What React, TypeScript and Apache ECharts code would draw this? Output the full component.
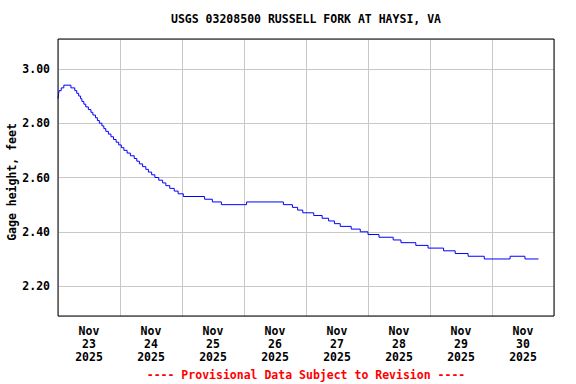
import { useEffect, useRef } from "react";
import * as echarts from "echarts";

const TITLE = "USGS 03208500 RUSSELL FORK AT HAYSI, VA";
const Y_NAME = "Gage height, feet";
const FOOTER = "---- Provisional Data Subject to Revision ----";

// day tick labels (centered at noon of each day)
const xTickLabels = [
  "Nov\n23\n2025",
  "Nov\n24\n2025",
  "Nov\n25\n2025",
  "Nov\n26\n2025",
  "Nov\n27\n2025",
  "Nov\n28\n2025",
  "Nov\n29\n2025",
  "Nov\n30\n2025",
];

// hours since Nov 23 00:00 at which the gage reading changes
const stepHours = [
  0, 0.25, 0.5, 1.25, 2.25, 5.0, 6.5, 7.25, 8.0, 8.75, 9.25, 10.0, 10.75, 11.75,
  12.75, 13.5, 14.5, 15.25, 16.0, 17.0, 17.75, 18.5, 19.5, 20.5, 21.5, 22.5,
  23.5, 24.5, 25.5, 26.75, 28.0, 29.5, 30.5, 31.5, 32.75, 34.0, 35.0, 36.25,
  37.5, 39.0, 40.5, 41.75, 43.25, 45.0, 46.5, 48.5, 56.75, 59.75, 63.25, 73.0,
  87.25, 90.75, 92.75, 94.75, 99.0, 102.25, 104.75, 107.0, 109.25, 113.5, 117.0,
  120.0, 124.25, 129.75, 132.75, 138.5, 143.25, 149.25, 153.75, 158.75, 165.0,
  175.0, 180.75, 186.0,
];

// gage height (feet) from each change time onward
const stepValues = [
  2.89, 2.91, 2.92, 2.93, 2.94, 2.93, 2.92, 2.91, 2.9, 2.89, 2.88, 2.87, 2.86,
  2.85, 2.84, 2.83, 2.82, 2.81, 2.8, 2.79, 2.78, 2.77, 2.76, 2.75, 2.74, 2.73,
  2.72, 2.71, 2.7, 2.69, 2.68, 2.67, 2.66, 2.65, 2.64, 2.63, 2.62, 2.61, 2.6,
  2.59, 2.58, 2.57, 2.56, 2.55, 2.54, 2.53, 2.52, 2.51, 2.5, 2.51, 2.5, 2.49,
  2.48, 2.47, 2.46, 2.45, 2.44, 2.43, 2.42, 2.41, 2.4, 2.39, 2.38, 2.37, 2.36,
  2.35, 2.34, 2.33, 2.32, 2.31, 2.3, 2.31, 2.3, 2.3,
];

const FONT = "DejaVu Sans Mono";

export default function App() {
  const ref = useRef<HTMLDivElement>(null);

  useEffect(() => {
    if (!ref.current) return;
    const chart = echarts.init(ref.current, undefined, { renderer: "svg" });
    const data = stepHours.map((h, i) => [h, stepValues[i]]);
    const totalHours = xTickLabels.length * 24;

    chart.setOption({
      animation: false,
      backgroundColor: "#ffffff",
      grid: {
        left: 58,
        top: 39,
        width: 496,
        height: 277,
        show: true,
        borderColor: "#000000",
        borderWidth: 1,
        backgroundColor: "transparent",
        z: 10,
      },
      xAxis: [
        {
          type: "value",
          min: 0,
          max: totalHours,
          interval: 24,
          axisLine: { show: false },
          axisTick: { show: false },
          axisLabel: { show: false },
          splitLine: { show: true, lineStyle: { color: "#c8c8c8", width: 1 } },
        },
        {
          type: "value",
          position: "bottom",
          min: 0,
          max: totalHours,
          interval: 12,
          axisLine: { show: false },
          axisTick: { show: false },
          splitLine: { show: false },
          axisLabel: {
            show: true,
            margin: 8,
            color: "#000000",
            fontFamily: FONT,
            fontWeight: "bold",
            fontSize: 11.5,
            lineHeight: 13,
            align: "center",
            formatter: (v: number) => {
              if (Math.round(v) % 24 !== 12) return "";
              const idx = Math.floor(v / 24);
              return xTickLabels[idx] ?? "";
            },
          },
        },
      ],
      yAxis: {
        type: "value",
        min: 2.09,
        max: 3.11,
        splitNumber: 5,
        axisLine: { show: false },
        axisTick: { show: false },
        splitLine: { show: true, lineStyle: { color: "#c8c8c8", width: 1 } },
        axisLabel: {
          show: true,
          showMinLabel: false,
          showMaxLabel: false,
          margin: 8,
          color: "#000000",
          fontFamily: FONT,
          fontWeight: "bold",
          fontSize: 11.5,
          formatter: (v: number) => v.toFixed(2),
        },
      },
      graphic: [
        {
          type: "text",
          x: 306,
          y: 19,
          style: {
            text: TITLE,
            align: "center",
            verticalAlign: "middle",
            fill: "#000000",
            font: `bold 11.5px "${FONT}"`,
          },
        },
        {
          type: "text",
          x: 12,
          y: 182,
          rotation: Math.PI / 2,
          style: {
            text: Y_NAME,
            align: "center",
            verticalAlign: "middle",
            fill: "#000000",
            font: `bold 11.5px "${FONT}"`,
          },
        },
        {
          type: "text",
          x: 306,
          y: 375,
          style: {
            text: FOOTER,
            align: "center",
            verticalAlign: "middle",
            fill: "#ff0000",
            font: `bold 11.5px "${FONT}"`,
          },
        },
      ],
      series: [
        {
          type: "line",
          xAxisIndex: 0,
          yAxisIndex: 0,
          step: "end",
          data,
          showSymbol: false,
          symbol: "none",
          lineStyle: { color: "#0000ff", width: 1 },
          z: 5,
        },
      ],
    });

    return () => {
      chart.dispose();
    };
  }, []);

  return (
    <div
      ref={ref}
      style={{ position: "fixed", left: 0, top: 0, width: 576, height: 384, background: "#fff" }}
    />
  );
}
